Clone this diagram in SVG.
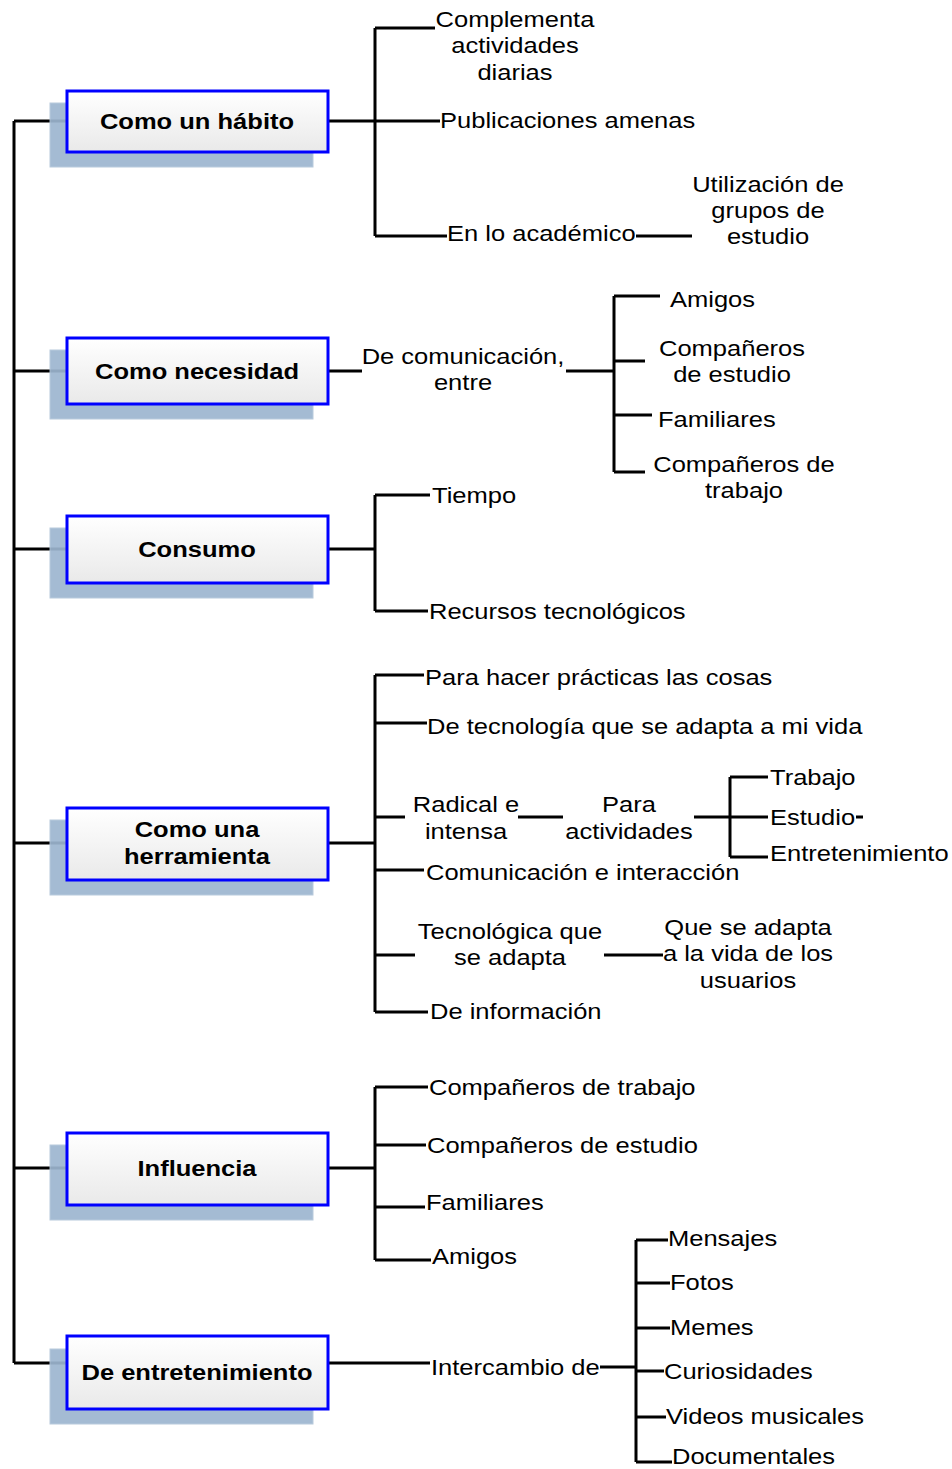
<svg xmlns="http://www.w3.org/2000/svg" width="952" height="1469" viewBox="0 0 952 1469">
<defs>
<linearGradient id="bg" x1="0" y1="0" x2="0" y2="1">
<stop offset="0" stop-color="#ffffff"/>
<stop offset="1" stop-color="#e9e9e9"/>
</linearGradient>
</defs>
<style>
.c{fill:none;stroke:#000;stroke-width:3}
.sh{fill:#9db6d0;stroke:#b3c6da;stroke-width:1;opacity:0.92}
.bx{fill:url(#bg);stroke:#0000ff;stroke-width:3}
text{font-family:"Liberation Sans",Arial,sans-serif;font-size:22px;fill:#000}
.b{font-weight:bold;text-anchor:middle}
.m{text-anchor:middle}
</style>
<rect width="952" height="1469" fill="#fff"/>
<g id="connectors">
<path class="c" d="M14,121 V1363 M14,121 H67 M14,371 H67 M14,549 H67 M14,843 H67 M14,1168 H67 M14,1363 H67"/>
<path class="c" d="M328,121 H375 M375,28 V236 M375,28 H435 M375,121 H440 M375,236 H447 M636,236 H692"/>
<path class="c" d="M328,371 H362 M566,371 H614 M614,296 V472 M614,296 H660 M614,361 H645 M614,415 H652 M614,472 H645"/>
<path class="c" d="M328,549 H375 M375,495 V611 M375,495 H430 M375,611 H428"/>
<path class="c" d="M328,843 H375 M375,675 V1012 M375,675 H424 M375,723 H427 M375,817 H405 M375,870 H424 M375,955 H415 M375,1012 H428 M518,817 H563 M694,817 H730 M730,777 V857 M730,777 H768 M730,817 H768 M730,857 H768 M856,817 H863 M604,955 H663"/>
<path class="c" d="M328,1168 H375 M375,1087 V1260 M375,1087 H428 M375,1145 H426 M375,1207 H425 M375,1260 H431"/>
<path class="c" d="M328,1363 H430 M600,1367 H636 M636,1240 V1462 M636,1240 H668 M636,1283 H670 M636,1328 H670 M636,1371 H664 M636,1417 H666 M636,1462 H672"/>
</g>
<g id="n1">
<rect class="sh" x="50" y="103" width="263" height="64"/>
<rect class="bx" x="67" y="91" width="261" height="61"/>
<text class="b" transform="translate(197,129) scale(1.16,1)">Como un hábito</text>
</g>
<g id="n2">
<rect class="sh" x="50" y="350" width="263" height="69"/>
<rect class="bx" x="67" y="338" width="261" height="66"/>
<text class="b" transform="translate(197,379) scale(1.16,1)">Como necesidad</text>
</g>
<g id="n3">
<rect class="sh" x="50" y="528" width="263" height="70"/>
<rect class="bx" x="67" y="516" width="261" height="67"/>
<text class="b" transform="translate(197,557) scale(1.16,1)">Consumo</text>
</g>
<g id="n4">
<rect class="sh" x="50" y="820" width="263" height="75"/>
<rect class="bx" x="67" y="808" width="261" height="72"/>
<text class="b" transform="translate(197,837) scale(1.16,1)"><tspan x="0">Como una</tspan><tspan x="0" dy="27">herramienta</tspan></text>
</g>
<g id="n5">
<rect class="sh" x="50" y="1145" width="263" height="75"/>
<rect class="bx" x="67" y="1133" width="261" height="72"/>
<text class="b" transform="translate(197,1176) scale(1.16,1)">Influencia</text>
</g>
<g id="n6">
<rect class="sh" x="50" y="1349" width="263" height="75"/>
<rect class="bx" x="67" y="1336" width="261" height="73"/>
<text class="b" transform="translate(197,1380) scale(1.16,1)">De entretenimiento</text>
</g>
<g id="t1">
<text class="m" transform="translate(515,27) scale(1.16,1)"><tspan x="0">Complementa</tspan><tspan x="0" dy="26.5">actividades</tspan><tspan x="0" dy="26.5">diarias</tspan></text>
<text transform="translate(440,128) scale(1.16,1)">Publicaciones amenas</text>
<text transform="translate(447,241) scale(1.16,1)">En lo académico</text>
<text class="m" transform="translate(768,192) scale(1.16,1)"><tspan x="0">Utilización de</tspan><tspan x="0" dy="26">grupos de</tspan><tspan x="0" dy="26">estudio</tspan></text>
</g>
<g id="t2">
<text class="m" transform="translate(463,364) scale(1.16,1)"><tspan x="0">De comunicación,</tspan><tspan x="0" dy="26">entre</tspan></text>
<text transform="translate(670,307) scale(1.16,1)">Amigos</text>
<text class="m" transform="translate(732,356) scale(1.16,1)"><tspan x="0">Compañeros</tspan><tspan x="0" dy="26">de estudio</tspan></text>
<text transform="translate(658,427) scale(1.16,1)">Familiares</text>
<text class="m" transform="translate(744,472) scale(1.16,1)"><tspan x="0">Compañeros de</tspan><tspan x="0" dy="26">trabajo</tspan></text>
</g>
<g id="t3">
<text transform="translate(432,503) scale(1.16,1)">Tiempo</text>
<text transform="translate(429,619) scale(1.16,1)">Recursos tecnológicos</text>
</g>
<g id="t4">
<text transform="translate(425,685) scale(1.16,1)">Para hacer prácticas las cosas</text>
<text transform="translate(427,734) scale(1.16,1)">De tecnología que se adapta a mi vida</text>
<text class="m" transform="translate(466,812) scale(1.16,1)"><tspan x="0">Radical e</tspan><tspan x="0" dy="27">intensa</tspan></text>
<text class="m" transform="translate(629,812) scale(1.16,1)"><tspan x="0">Para</tspan><tspan x="0" dy="27">actividades</tspan></text>
<text transform="translate(770,785) scale(1.16,1)">Trabajo</text>
<text transform="translate(770,825) scale(1.16,1)">Estudio</text>
<text transform="translate(770,861) scale(1.16,1)">Entretenimiento</text>
<text transform="translate(426,880) scale(1.16,1)">Comunicación e interacción</text>
<text class="m" transform="translate(510,939) scale(1.16,1)"><tspan x="0">Tecnológica que</tspan><tspan x="0" dy="26">se adapta</tspan></text>
<text class="m" transform="translate(748,935) scale(1.16,1)"><tspan x="0">Que se adapta</tspan><tspan x="0" dy="26.5">a la vida de los</tspan><tspan x="0" dy="26.5">usuarios</tspan></text>
<text transform="translate(430,1019) scale(1.16,1)">De información</text>
</g>
<g id="t5">
<text transform="translate(429,1095) scale(1.16,1)">Compañeros de trabajo</text>
<text transform="translate(427,1153) scale(1.16,1)">Compañeros de estudio</text>
<text transform="translate(426,1210) scale(1.16,1)">Familiares</text>
<text transform="translate(432,1264) scale(1.16,1)">Amigos</text>
</g>
<g id="t6">
<text transform="translate(431,1375) scale(1.16,1)">Intercambio de</text>
<text transform="translate(668,1246) scale(1.16,1)">Mensajes</text>
<text transform="translate(670,1290) scale(1.16,1)">Fotos</text>
<text transform="translate(670,1335) scale(1.16,1)">Memes</text>
<text transform="translate(664,1379) scale(1.16,1)">Curiosidades</text>
<text transform="translate(666,1424) scale(1.16,1)">Videos musicales</text>
<text transform="translate(672,1464) scale(1.16,1)">Documentales</text>
</g>
</svg>
